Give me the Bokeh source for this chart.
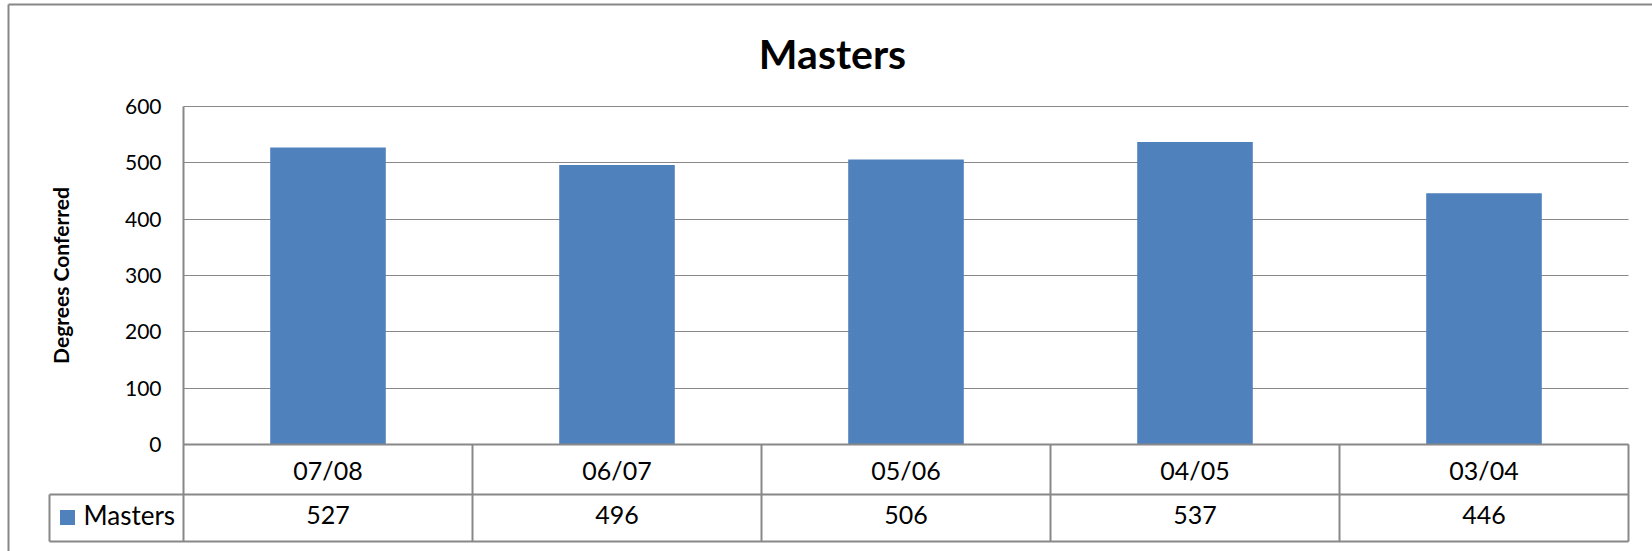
from bokeh.plotting import figure
from bokeh.models import Range1d, FixedTicker, Grid
from bokeh.core.properties import value
from bokeh.embed import file_html
from bokeh.resources import INLINE

# ---- data ----
categories = ["07/08", "06/07", "05/06", "04/05", "03/04"]
series_name = "Masters"
masters = [527, 496, 506, 537, 446]
y_ticks = [0, 100, 200, 300, 400, 500, 600]
chart_title = "Masters"
y_title = "Degrees Conferred"

# ---- layout (canvas pixels) ----
W, H = 1652, 551
PX0, PX1 = 183, 1628        # plot area left / right
PY0, PYTOP = 444, 106       # pixel rows of value 0 and of the top tick
YMAX = y_ticks[-1]
n = len(categories)
kx = (PX1 - PX0) / n
ky = (PY0 - PYTOP) / YMAX


def dx(px):
    return (px - PX0) / kx


def dy(py):
    return (PY0 - py) / ky


ROW1_B, ROW2_B = 494, 541   # table row bottoms
LEG_L = 49                  # legend cell left
BAR = "#4F81BD"
LINE = "#888888"
FONT = "Lato"

p = figure(width=W, height=H,
           x_range=Range1d(dx(0), dx(W)), y_range=Range1d(dy(H), dy(0)),
           output_backend="svg", toolbar_location=None,
           min_border=0, min_border_left=0, min_border_right=0,
           min_border_top=0, min_border_bottom=0)
p.outline_line_color = None
p.background_fill_color = "white"
p.border_fill_color = "white"

xs = [i + 0.5 for i in range(n)]

# y axis
ya = p.yaxis[0]
ya.fixed_location = 0
ya.ticker = FixedTicker(ticks=y_ticks)
ya.bounds = (0, YMAX)
ya.axis_line_color = LINE
ya.axis_line_width = 2
ya.major_tick_line_color = None
ya.minor_tick_line_color = None
ya.major_tick_out = 0
ya.major_tick_in = 0
ya.major_label_standoff = 22
ya.major_label_text_font = FONT
ya.major_label_text_font_size = "21px"
ya.major_label_text_color = "black"
ya.axis_label = y_title
ya.axis_label_text_font = FONT
ya.axis_label_text_font_style = "bold"
ya.axis_label_text_font_size = "21px"
ya.axis_label_text_color = "black"
ya.axis_label_standoff = 49

# x axis (category row of the table)
xa = p.xaxis[0]
xa.fixed_location = 0
xa.ticker = FixedTicker(ticks=xs)
xa.major_label_overrides = {x: c for x, c in zip(xs, categories)}
xa.bounds = (0, n)
xa.axis_line_color = LINE
xa.axis_line_width = 2
xa.major_tick_line_color = None
xa.minor_tick_line_color = None
xa.major_tick_out = 0
xa.major_tick_in = 0
xa.major_label_standoff = 10
xa.major_label_text_font = FONT
xa.major_label_text_font_size = "25px"
xa.major_label_text_color = "black"

# grids
p.xgrid.visible = False
yg = p.ygrid[0]
yg.ticker = FixedTicker(ticks=y_ticks)
yg.grid_line_color = LINE
yg.grid_line_width = 1
if "cross_bounds" in Grid.properties():
    yg.cross_bounds = (0, n)
    grid_fallback = False
else:
    yg.visible = False
    grid_fallback = True
if grid_fallback:
    p.segment(x0=[0] * len(y_ticks), x1=[n] * len(y_ticks), y0=y_ticks, y1=y_ticks,
              line_color=LINE, line_width=1)

# bars
p.vbar(x=xs, top=masters, bottom=0, width=0.4, fill_color=BAR, line_color=None)

# table lines
p.segment(x0=[dx(LEG_L), dx(LEG_L)], x1=[n, n],
          y0=[dy(ROW1_B), dy(ROW2_B)], y1=[dy(ROW1_B), dy(ROW2_B)],
          line_color=LINE, line_width=2)
vx = list(range(0, n + 1))
p.segment(x0=vx, x1=vx, y0=[0] * (n + 1), y1=[dy(ROW2_B)] * (n + 1),
          line_color=LINE, line_width=2)
p.segment(x0=[dx(LEG_L)], x1=[dx(LEG_L)], y0=[dy(ROW1_B)], y1=[dy(ROW2_B)],
          line_color=LINE, line_width=2)

# value row
row2_c = dy(514)
p.text(x=xs, y=[row2_c] * n, text=[str(v) for v in masters],
       text_align="center", text_baseline="middle",
       text_font=value(FONT), text_font_size="25px", text_color="black")

# legend cell
p.scatter(x=[dx(67)], y=[dy(517)], marker="square", size=15,
          fill_color=BAR, line_color=None)
p.text(x=[dx(83)], y=[row2_c], text=[series_name], text_align="left",
       text_baseline="middle", text_font=value(FONT), text_font_size="26px",
       text_color="black")

# title
p.text(x=[dx(832)], y=[dy(52.5)], text=[chart_title], text_align="center",
       text_baseline="middle", text_font=value(FONT), text_font_style="bold",
       text_font_size="41px", text_color="black")

# outer chart border (top and left edges; the rest is cut off)
p.segment(x0=[dx(8), dx(8)], x1=[dx(W), dx(8)], y0=[dy(4), dy(4)], y1=[dy(4), dy(H)],
          line_color="#878787", line_width=2)

open("out.html", "w").write(file_html(p, INLINE))
